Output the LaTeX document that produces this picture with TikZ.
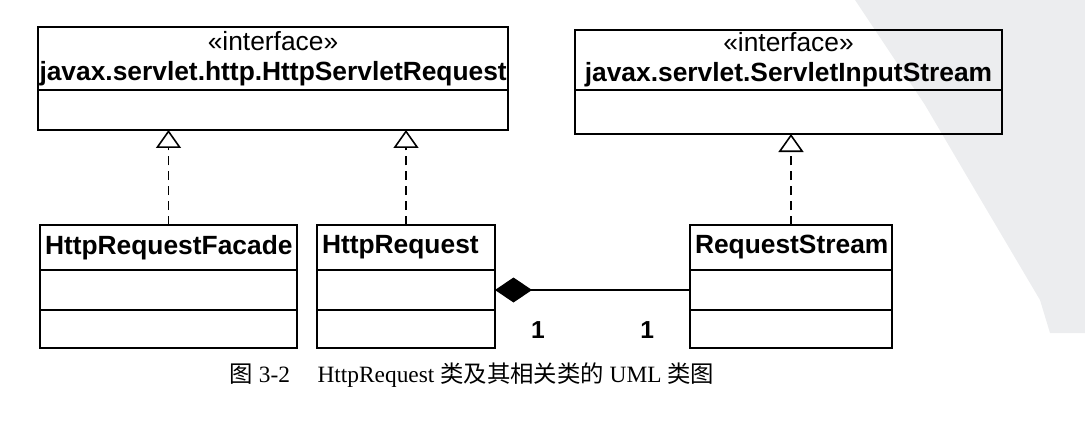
\documentclass[tikz,border=0pt]{standalone}
\usepackage{fontspec}
\setmainfont{Liberation Serif}
\setsansfont{Liberation Sans}
\newfontfamily\cjk{Noto Sans CJK SC}
\usetikzlibrary{positioning,arrows.meta}
\definecolor{shadegray}{RGB}{236,237,239}

\tikzset{
  box/.style={draw, line width=1.2pt, inner ysep=0pt, inner xsep=0.1cm, outer sep=0pt},
  clsname/.style={box, anchor=north west, font=\sffamily\bfseries\fontsize{15}{17}\selectfont, align=left, minimum height=0.9cm},
  ifname/.style={box, anchor=north west, inner xsep=0.03cm, font=\sffamily\fontsize{15}{17}\selectfont, align=center},
  compart/.style={box, inner xsep=0pt},
  realize/.style={line width=1pt, dash pattern=on 5pt off 3.5pt, -{Triangle[open, length=0.36cm, width=0.5cm, line width=0.9pt]}},
  owns/.style={line width=1pt, {Diamond[length=0.74cm, width=0.5cm]}-},
  mult/.style={font=\sffamily\bfseries\fontsize{14}{16}\selectfont}
}

\begin{document}
\begin{tikzpicture}
\useasboundingbox (0,0) rectangle (21.7,-8.72);
\fill[shadegray] (17.1,0) -- (21.7,0) -- (21.7,-6.66) -- (21.0,-6.66) -- (20.8,-6.0) -- (19.5,-3.8) -- (18.5,-2.1) -- cycle;

\node[ifname, text width=9.34cm, minimum height=1.26cm] (i1) at (0.76,-0.54) {«interface»\\\textbf{javax.servlet.http.HttpServletRequest}};
\node[compart, minimum width=9.4cm, minimum height=0.8cm, below=0pt of i1] (i1attr) {};
\node[ifname, text width=8.48cm, minimum height=1.2cm] (i2) at (11.5,-0.6) {«interface»\\\textbf{javax.servlet.ServletInputStream}};
\node[compart, minimum width=8.54cm, minimum height=0.88cm, below=0pt of i2] (i2attr) {};

\node[clsname, text width=4.94cm] (c1) at (0.8,-4.5) {HttpRequestFacade};
\node[compart, minimum width=5.14cm, minimum height=0.8cm, below=0pt of c1] (c1attr) {};
\node[compart, minimum width=5.14cm, minimum height=0.76cm, below=0pt of c1attr] (c1ops) {};
\node[clsname, text width=3.36cm] (c2) at (6.34,-4.5) {HttpRequest};
\node[compart, minimum width=3.56cm, minimum height=0.8cm, below=0pt of c2] (c2attr) {};
\node[compart, minimum width=3.56cm, minimum height=0.76cm, below=0pt of c2attr] (c2ops) {};
\node[clsname, text width=3.84cm] (c3) at (13.8,-4.5) {RequestStream};
\node[compart, minimum width=4.04cm, minimum height=0.8cm, below=0pt of c3] (c3attr) {};
\node[compart, minimum width=4.04cm, minimum height=0.76cm, below=0pt of c3attr] (c3ops) {};

\draw[realize] (c1.north) -- (c1.north |- i1attr.south);
\draw[realize] (c2.north) -- (c2.north |- i1attr.south);
\draw[realize] (c3.north) -- (c3.north |- i2attr.south);
\draw[owns] (c2attr.east) -- (c3attr.west)
  node[mult, pos=0.22, below=0.5cm] (m1) {1}
  node[mult, pos=0.78, below=0.5cm] (m2) {1};

\node[font=\fontsize{13.3}{16}\selectfont] (cap) at (9.44,-7.5) {{\cjk 图} 3-2\hspace{0.55cm}HttpRequest {\cjk 类及其相关类的} UML {\cjk 类图}};
\end{tikzpicture}
\end{document}
